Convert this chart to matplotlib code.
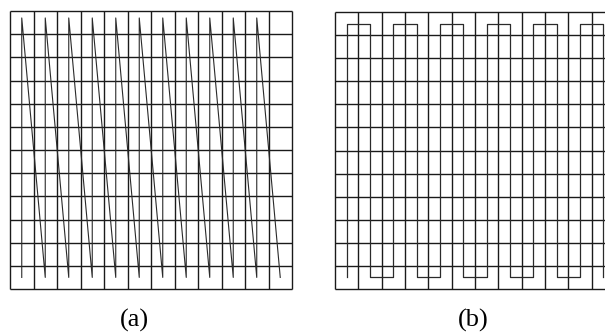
import matplotlib.pyplot as plt

# grid size (cells)
n_cols = 12
n_rows = 12

# (a) sawtooth scan: up each column, fly back diagonally to the next column bottom
saw_x = [0.5, 0.5, 1.5, 1.5, 2.5, 2.5, 3.5, 3.5, 4.5, 4.5, 5.5, 5.5,
         6.5, 6.5, 7.5, 7.5, 8.5, 8.5, 9.5, 9.5, 10.5, 10.5, 11.5]
saw_y = [0.5, 11.7, 0.5, 11.7, 0.5, 11.7, 0.5, 11.7, 0.5, 11.7, 0.5, 11.7,
         0.5, 11.7, 0.5, 11.7, 0.5, 11.7, 0.5, 11.7, 0.5, 11.7, 0.5]

# (b) serpentine scan: up, across, down, across ...
snake_x = [0.5, 0.5, 1.5, 1.5, 2.5, 2.5, 3.5, 3.5, 4.5, 4.5, 5.5, 5.5,
           6.5, 6.5, 7.5, 7.5, 8.5, 8.5, 9.5, 9.5, 10.5, 10.5, 11.5, 11.5]
snake_y = [0.5, 11.5, 11.5, 0.5, 0.5, 11.5, 11.5, 0.5, 0.5, 11.5, 11.5, 0.5,
           0.5, 11.5, 11.5, 0.5, 0.5, 11.5, 11.5, 0.5, 0.5, 11.5, 11.5, 0.5]

labels = ['(a)', '(b)']


def draw_grid(ax):
    ax.vlines(range(n_cols + 1), 0, n_rows, colors='#1a1a1a', linewidth=1.0, clip_on=False)
    ax.hlines(range(n_rows + 1), 0, n_cols, colors='#1a1a1a', linewidth=1.0, clip_on=False)
    ax.set_xlim(0, n_cols)
    ax.set_ylim(0, n_rows)
    ax.axis('off')


fig = plt.figure(figsize=(6.05, 3.34), dpi=100)

ax_a = fig.add_axes([10 / 605, 45 / 334, 282 / 605, 278 / 334])
draw_grid(ax_a)
ax_a.plot(saw_x, saw_y, color='#2a2a2a', linewidth=0.8, clip_on=False)

# panel (b) runs off the right edge of the picture
ax_b = fig.add_axes([335 / 605, 45 / 334, 280 / 605, 277 / 334])
draw_grid(ax_b)
ax_b.plot(snake_x, snake_y, color='#2a2a2a', linewidth=0.9, clip_on=False)

fig.text(134 / 605, 1 - 320 / 334, labels[0], ha='center', va='center',
         fontsize=19, family='Liberation Serif')
fig.text(473 / 605, 1 - 320 / 334, labels[1], ha='center', va='center',
         fontsize=19, family='Liberation Serif')

fig.savefig('out.png', dpi=100)
